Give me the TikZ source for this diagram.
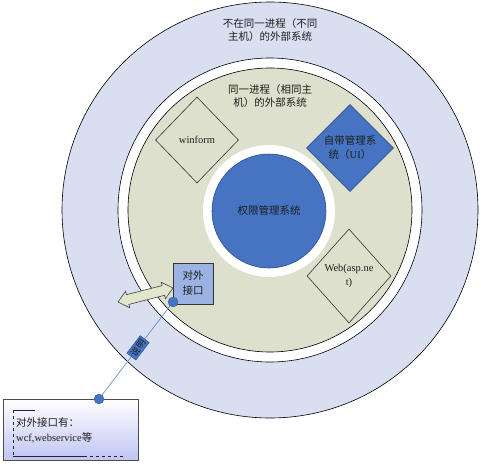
\documentclass[tikz,border=0pt]{standalone}
\usepackage{fontspec}
\setmainfont{Liberation Serif}
\newfontfamily\cjk{Noto Sans CJK SC}
\usetikzlibrary{shapes.geometric}
\definecolor{outerfill}{HTML}{D8DFF0}
\definecolor{greenfill}{HTML}{DDE0CC}
\definecolor{coreblue}{HTML}{4674C2}
\definecolor{coreedge}{HTML}{2E4E8A}
\definecolor{ifacefill}{HTML}{9BB2E2}
\definecolor{arrowfill}{HTML}{E2E6CC}
\definecolor{txt}{HTML}{1E1E1E}
\definecolor{linkblue}{HTML}{5B84C8}
\tikzset{
  ring/.style={draw=black, line width=0.6pt},
  txtstyle/.style={text=txt, font=\fontsize{10.5}{13}\selectfont, align=center, inner sep=0pt},
  dia/.style={diamond, draw=black!80, line width=0.6pt, inner sep=0pt, text=txt,
              font=\fontsize{10.5}{14}\selectfont, align=center},
  dotstyle/.style={circle, fill=coreblue, draw=coreblue!80!black, line width=0.3pt, minimum size=10pt, inner sep=0pt},
}
\begin{document}
\begin{tikzpicture}[x=1pt,y=-1pt]
\useasboundingbox (0,0) rectangle (481,468);
% rings
\fill[outerfill, ring] (270,210) circle (208);
\filldraw[fill=white, ring] (270,210) circle (152);
\filldraw[fill=greenfill, ring] (270,210) circle (142);
\fill[white] (269,211) circle (66);
\node[circle, fill=coreblue, draw=coreedge, line width=0.6pt, minimum size=114pt, inner sep=0pt,
      text=txt, font=\fontsize{10.5}{13}\selectfont] (core) at (269,211) {\cjk 权限管理系统};
% titles
\node[txtstyle] (t1) at (270,30) {\cjk 不在同一进程（不同\\\cjk 主机）的外部系统};
\node[txtstyle] (t2) at (270,96) {\cjk 同一进程（相同主\\\cjk 机）的外部系统};
% diamonds
\node[dia, minimum width=83pt, minimum height=86pt] (win) at (197,140) {winform};
\node[dia, fill=coreblue, draw=coreedge, minimum width=87pt, minimum height=87pt] (self) at (350,148)
  {\cjk 自带管理系\\{\cjk 统（}UI{\cjk ）}};
\node[dia, minimum width=84pt, minimum height=94pt] (web) at (349,276) {Web(asp.ne\\t)};
% double arrow
\begin{scope}[shift={(145.5,295)}, rotate=14.3]
  \draw[fill=arrowfill, draw=black!75, line width=0.6pt]
    (-28.4,0) -- (-18.4,8.5) -- (-18.4,5) -- (18.4,5) -- (18.4,8.5) -- (28.4,0)
    -- (18.4,-8.5) -- (18.4,-5) -- (-18.4,-5) -- (-18.4,-8.5) -- cycle;
\end{scope}
% interface box
\node[draw=black!80, fill=ifacefill, line width=0.8pt, minimum width=40pt, minimum height=41pt,
      text=txt, font=\fontsize{10.5}{15}\selectfont, align=center, inner sep=0pt] (iface) at (193,283.5)
  {\cjk 对外\\\cjk 接口};
% bottom box
\node[draw=black!70, line width=0.6pt, top color=white, bottom color=outerfill!85!blue!90,
      minimum width=135pt, minimum height=61pt, inner sep=0pt] (note) at (70.5,429.5) {};
\node[anchor=west, text=txt, font=\fontsize{10.5}{15}\selectfont, align=left, inner sep=0pt] (notetxt) at (16,430.5)
  {{\cjk 对外接口有：}\\wcf,webservice{\cjk 等}};
\draw[black!85, line width=0.6pt] (35,410) -- (13,410);
\draw[black!85, line width=0.6pt, dashed] (13,410) -- (13,456);
\draw[black!85, line width=0.6pt] (13,456) -- (84,456);
\draw[black!85, line width=0.6pt, dashed] (84,456) -- (126,456);
% connector
\node[dotstyle] (d1) at (173,302) {};
\node[dotstyle] (d2) at (99,399) {};
\draw[linkblue, line width=0.6pt] (d1) -- (d2)
  node[pos=0.47, rotate=52.7, fill=coreblue, draw=coreedge, line width=0.4pt, text=txt,
       font=\fontsize{9}{10}\selectfont, inner xsep=2pt, inner ysep=1.5pt] (lbl) {\cjk 说明};
\end{tikzpicture}
\end{document}
